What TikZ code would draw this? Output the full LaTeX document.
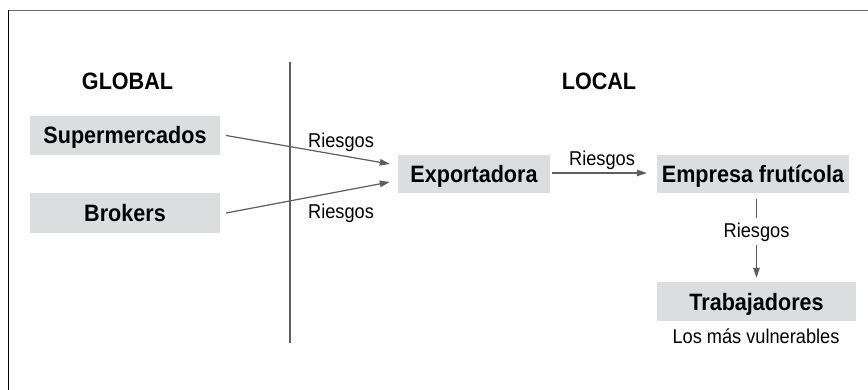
\documentclass[tikz,border=0pt]{standalone}
\usepackage{fontspec}
\setmainfont{Liberation Sans}
\newfontfamily\hvn[FakeStretch=0.91]{Liberation Sans}
\usetikzlibrary{arrows.meta}
\definecolor{boxgray}{HTML}{DCDDDF}
\definecolor{linegray}{HTML}{5E5E5E}
\definecolor{framegray}{HTML}{6A6A6A}
\begin{document}
\begin{tikzpicture}[x=1pt,y=-1pt,
  big/.style={font=\hvn\fontsize{23.7}{26}\selectfont\bfseries},
  small/.style={font=\hvn\fontsize{20}{22}\selectfont},
  box/.style={big, fill=boxgray, inner sep=0pt, text height=17pt, text depth=0pt},
  lbl/.style={small, inner sep=0pt, anchor=base},
  ln/.style={draw=linegray, line width=1.2pt},
  arr/.style={ln, -{Triangle[length=10pt,width=6.5pt]}, fill=linegray}
]
\useasboundingbox (0,0) rectangle (868,390);
% frame
\draw[framegray, line width=1.8pt] (8,10.6) -- (868,10.6);
\draw[black, line width=1.6pt] (8.3,10) -- (8.3,390);

% headings
\node[big, inner sep=0pt, anchor=base] (glob) at (127.5,90) {GLOBAL};
\node[big, inner sep=0pt, anchor=base] (loc) at (599,90) {LOCAL};

% divider
\coordinate (d1) at (290,62);
\coordinate (d2) at (290,343);
\draw[ln] (d1) -- (d2);

% boxes
\node[box, minimum width=190pt, minimum height=39pt] (sup) at (125,135.5) {Supermercados};
\node[box, minimum width=190pt, minimum height=40pt] (bro) at (125,213) {Brokers};
\node[box, minimum width=152pt, minimum height=38pt] (exp) at (474,174) {Exportadora};
\node[box, minimum width=192pt, minimum height=38pt] (emp) at (753,174) {Empresa frutícola};
\node[box, minimum width=199pt, minimum height=39pt] (trab) at (756.5,301.5) {Trabajadores};

% labels
\node[lbl] (r1) at (341,148) {Riesgos};
\node[lbl] (r2) at (341,219) {Riesgos};
\node[lbl] (r3) at (602,166) {Riesgos};
\node[lbl] (r4) at (756.5,238) {Riesgos};
\node[lbl] (vul) at (756,343) {Los más vulnerables};

% connectors
\draw[arr] ([xshift=6pt]sup.east) -- ([xshift=-8pt,yshift=10pt]exp.west);
\draw[arr] ([xshift=6pt]bro.east) -- ([xshift=-8pt,yshift=-8pt]exp.west);
\draw[arr] ([xshift=2pt,yshift=1pt]exp.east) -- ([xshift=-10pt,yshift=1pt]emp.west);
\draw[ln] ([yshift=-6pt]trab.north |- emp.south) -- ([yshift=-25pt]trab.north |- emp.south);
\draw[arr] ([yshift=37pt]trab.north) -- ([yshift=4pt]trab.north);
\end{tikzpicture}
\end{document}
